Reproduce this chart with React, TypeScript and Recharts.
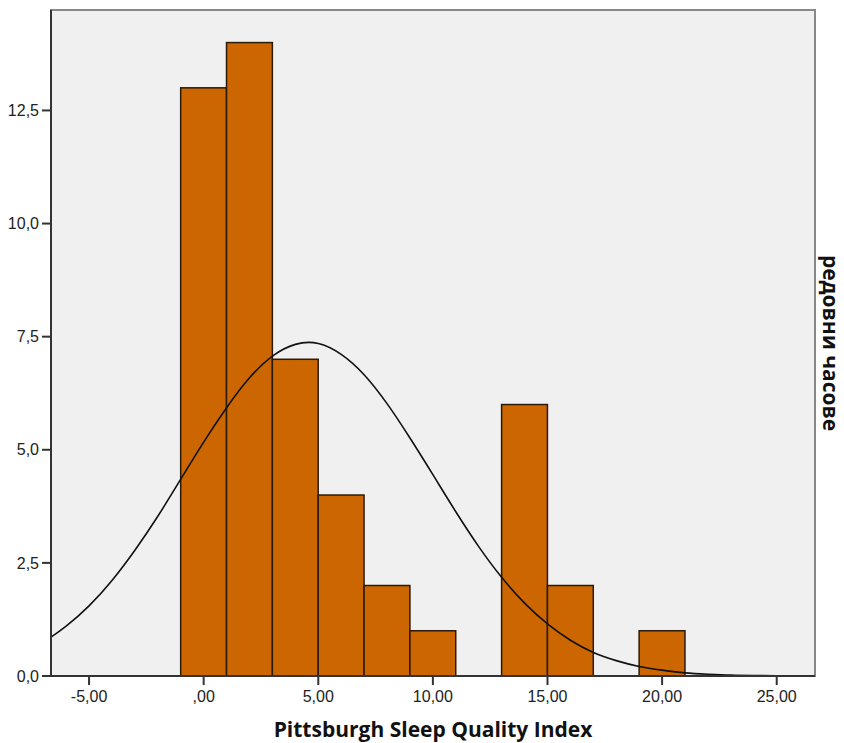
import { Bar, ComposedChart, Line, ReferenceArea, XAxis, YAxis } from "recharts";

// histogram bins (centre of each 2-point bin) and their frequencies
const binCenters = [0, 2, 4, 6, 8, 10, 12, 14, 16, 18, 20];
const frequencies = [13, 14, 7, 4, 2, 1, 0, 6, 2, 0, 1];
const BIN_WIDTH = 2;

// fitted normal curve, sampled once per index point
const curveX = [
  -6.66, -6, -5, -4, -3, -2, -1, 0, 1, 2, 3, 4, 5, 6, 7, 8, 9, 10, 11, 12, 13, 14, 15, 16, 17, 18, 19, 20, 21,
  22, 23, 24, 25, 26, 26.67,
];
const curveY = [
  0.86, 1.1, 1.55, 2.11, 2.78, 3.53, 4.35, 5.17, 5.93, 6.59, 7.07, 7.33, 7.35, 7.11, 6.66, 6.02, 5.26, 4.45, 3.63,
  2.86, 2.18, 1.61, 1.15, 0.79, 0.52, 0.34, 0.21, 0.13, 0.07, 0.04, 0.02, 0.01, 0.005, 0.002, 0.001,
];

const xTicks = [-5, 0, 5, 10, 15, 20, 25];
const yTicks = [0, 2.5, 5, 7.5, 10, 12.5];
const X_DOMAIN: [number, number] = [-6.66, 26.67];
const Y_DOMAIN: [number, number] = [0, 14.72];

const bins = binCenters.map((x, i) => ({ x, count: frequencies[i] }));
const curve = curveX.map((x, i) => ({ x, y: curveY[i] }));

const WIDTH = 844;
const HEIGHT = 743;
const Y_AXIS_W = 51;
const RIGHT_W = 29;
const plotWidth = WIDTH - Y_AXIS_W - RIGHT_W;
// one bin in pixels on the numeric x axis
const binPx = (plotWidth * BIN_WIDTH) / (X_DOMAIN[1] - X_DOMAIN[0]);

const fmtX = (v: number) => (v === 0 ? ",00" : v.toFixed(2).replace(".", ","));
const fmtY = (v: number) => v.toFixed(1).replace(".", ",");

const tickStyle = { fontSize: 16, fill: "#222", fontFamily: "Arial, 'Liberation Sans', sans-serif" };
const titleStyle = { fontSize: 21, fontWeight: 700, fill: "#111", fontFamily: "'Open Sans', sans-serif" };

// keep the bar's centre and height from the scale, widen it to the full bin
function BinBar(props: any) {
  const { x, y, width, height } = props;
  if (!height || height <= 0) return null;
  const cx = x + width / 2;
  return (
    <rect
      x={cx - binPx / 2}
      y={y}
      width={binPx}
      height={height}
      fill="#cc6600"
      stroke="#2a1a0a"
      strokeWidth={1.5}
    />
  );
}

export default function App() {
  return (
    <div style={{ position: "fixed", left: 0, top: 0, background: "#fff" }}>
      <ComposedChart
        width={WIDTH}
        height={HEIGHT}
        data={bins}
        margin={{ top: 10, right: 0, bottom: 0, left: 0 }}
        barCategoryGap={0}
        barGap={0}
      >
        <XAxis
          dataKey="x"
          type="number"
          domain={X_DOMAIN}
          allowDataOverflow
          ticks={xTicks}
          tickFormatter={fmtX}
          tick={tickStyle}
          tickSize={9}
          tickMargin={6}
          height={67}
          stroke="#333"
          strokeWidth={2}
          label={{ value: "Pittsburgh Sleep Quality Index", position: "insideBottom", offset: 6, style: titleStyle }}
        />
        <YAxis
          type="number"
          domain={Y_DOMAIN}
          allowDataOverflow
          ticks={yTicks}
          tickFormatter={fmtY}
          tick={tickStyle}
          tickSize={9}
          tickMargin={3}
          width={Y_AXIS_W}
          stroke="#333"
          strokeWidth={2}
        />
        <YAxis
          yAxisId="right"
          orientation="right"
          domain={[0, 1]}
          tick={false}
          axisLine={false}
          width={RIGHT_W}
          label={{ value: "редовни часове", angle: 90, position: "center", dx: 1, style: titleStyle }}
        />
        <ReferenceArea
          x1={X_DOMAIN[0]}
          x2={X_DOMAIN[1]}
          y1={Y_DOMAIN[0]}
          y2={Y_DOMAIN[1]}
          fill="#f0f0f0"
          fillOpacity={1}
          stroke="#888"
          strokeWidth={2}
        />
        <Bar dataKey="count" shape={BinBar} isAnimationActive={false} />
        <Line
          data={curve}
          dataKey="y"
          type="natural"
          stroke="#111"
          strokeWidth={1.6}
          dot={false}
          activeDot={false}
          isAnimationActive={false}
        />
      </ComposedChart>
    </div>
  );
}
